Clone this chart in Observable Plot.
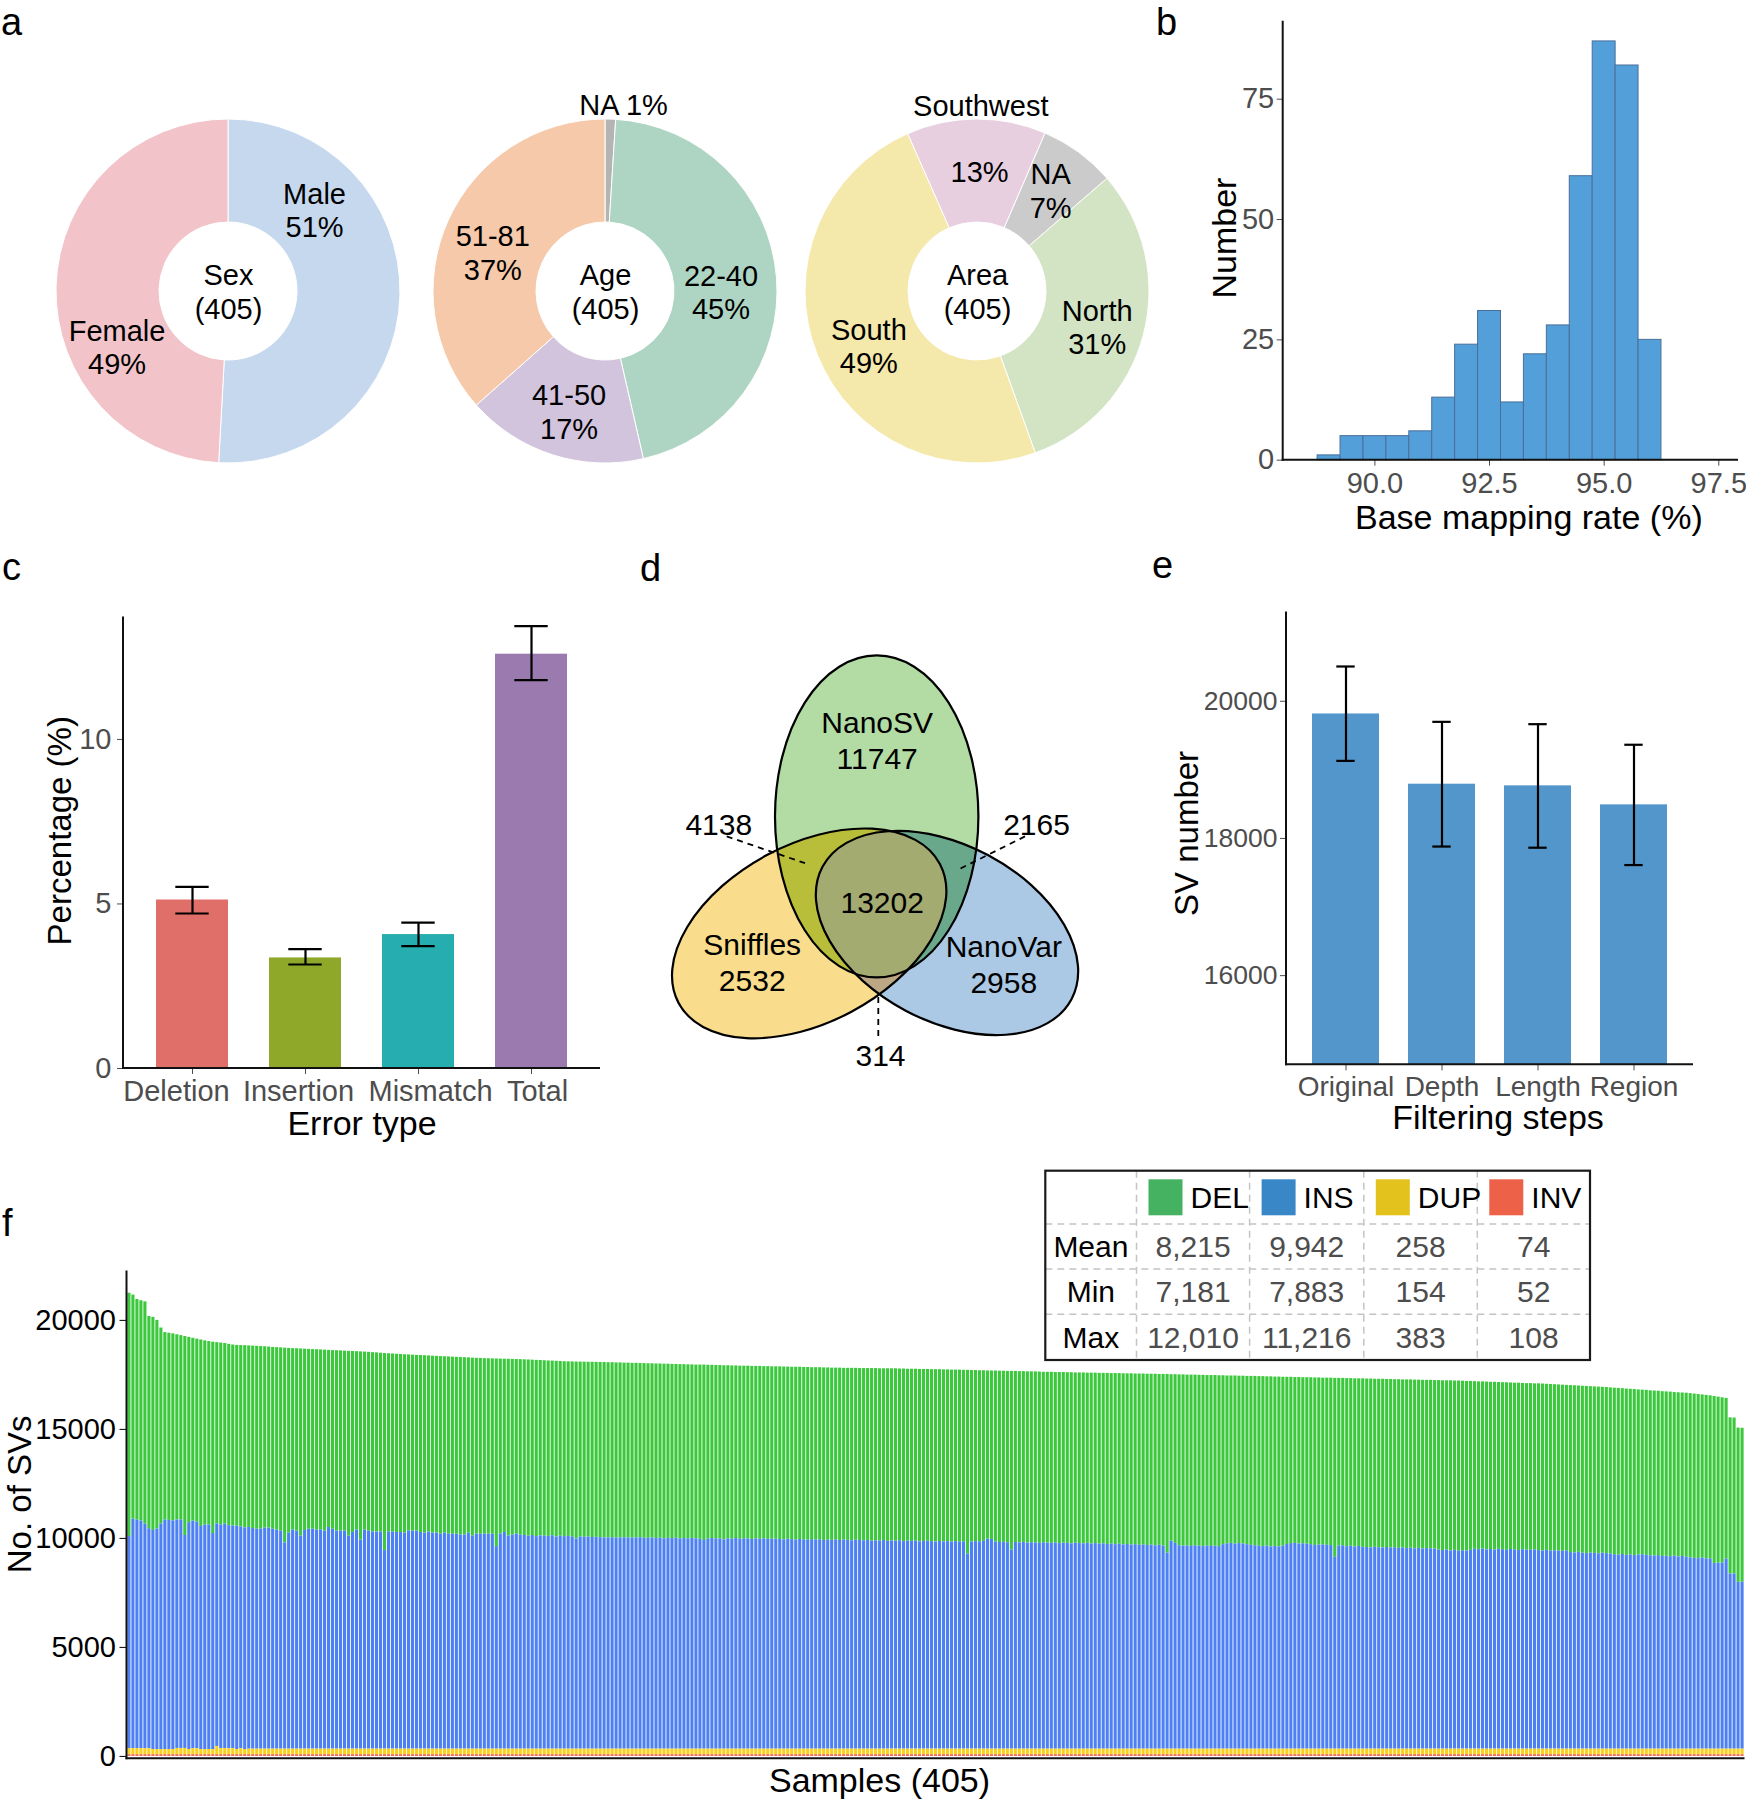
<!DOCTYPE html>
<html>
<head>
<meta charset="utf-8">
<title>Figure</title>
<script src="https://cdn.jsdelivr.net/npm/d3@7"></script>
<script src="https://cdn.jsdelivr.net/npm/@observablehq/plot@0.6"></script>
<style>
html,body{margin:0;padding:0;background:#fff;}
#fig{position:relative;width:1746px;height:1806px;overflow:hidden;background:#fff;font-family:"Liberation Sans",Arial,Helvetica,sans-serif;}
.panel{position:absolute;}
.panel svg{display:block;}
</style>
</head>
<body>
<div id="fig"></div>
<script>
// ================= DATA =================
// (a) cohort composition
const sexCats = ["Male", "Female"];
const sexCounts = [206, 199];
const sexColors = ["#c5d8ee", "#f2c4c9"];
const ageCats = ["NA", "22-40", "41-50", "51-81"];
const ageCounts = [4, 184, 69, 148];
const ageColors = ["#b4b4b4", "#aed5c3", "#d3c4de", "#f6c9aa"];
const areaCats = ["Southwest", "NA", "North", "South"];
const areaCounts = [53, 29, 125, 198];
const areaColors = ["#e8cfe0", "#cbcbcb", "#d2e4c4", "#f4e8ab"];

// (b) base mapping rate histogram
const mapBinStart = [88.75, 89.25, 89.75, 90.25, 90.75, 91.25, 91.75, 92.25, 92.75, 93.25, 93.75, 94.25, 94.75, 95.25, 95.75];
const mapBinWidth = 0.5;
const mapBinCount = [1, 5, 5, 5, 6, 13, 24, 31, 12, 22, 28, 59, 87, 82, 25];
const mapXTicks = [90, 92.5, 95, 97.5];
const mapYTicks = [0, 25, 50, 75];

// (c) error rates
const errTypes = ["Deletion", "Insertion", "Mismatch", "Total"];
const errMean = [5.12, 3.36, 4.07, 12.59];
const errLow = [4.71, 3.16, 3.72, 11.80];
const errHigh = [5.52, 3.63, 4.43, 13.44];
const errColors = ["#e06f69", "#8fa82a", "#26adaf", "#9b7baf"];
const errYTicks = [0, 5, 10];

// (d) Venn of callers
const vennSets = ["NanoSV", "Sniffles", "NanoVar"];
const vennUnique = [11747, 2532, 2958];
const vennPairs = [[0, 1], [0, 2], [1, 2]];
const vennPairCounts = [4138, 2165, 314];
const vennAllCount = 13202;
const vennFill = ["#b2dca4", "#f9dc8c", "#abc8e4"];
const vennPairFill = ["#b8bd3a", "#6aa88c", "#bba784"];
const vennAllFill = "#a4ab70";

// (e) filtering steps
const filterSteps = ["Original", "Depth", "Length", "Region"];
const svMean = [19815, 18791, 18767, 18490];
const svLow = [19131, 17882, 17865, 17612];
const svHigh = [20507, 19700, 19666, 19366];
const svYTicks = [16000, 18000, 20000];

// (f) per-sample SV counts (405 samples, sorted by total)
const svTypes = ["DEL", "INS", "DUP", "INV"];
const svStackOrder = ["INV", "DUP", "INS", "DEL"];
const svBarColors = ["#3cc83c", "#4d80f2", "#f7d11e", "#ef5b45"];
const svLegendColors = ["#45b262", "#3a87c8", "#e3c21d", "#ec6148"];
const sampleTotal = [
21245,21160,20960,20900,20850,20180,20140,20000,19650,19440,
19410,19380,19340,19300,19260,19220,19180,19140,19100,19060,
19030,19000,18980,18960,18940,18900,18870,18850,18845,18840,
18830,18820,18810,18800,18790,18775,18760,18750,18740,18725,
18715,18705,18700,18690,18680,18670,18660,18655,18645,18636,
18625,18615,18610,18600,18590,18580,18575,18565,18555,18547,
18535,18520,18510,18495,18480,18470,18460,18445,18435,18423,
18415,18405,18395,18390,18380,18370,18360,18350,18340,18334,
18325,18315,18305,18300,18290,18280,18270,18260,18255,18245,
18240,18235,18230,18225,18220,18215,18210,18205,18200,18192,
18185,18175,18165,18160,18150,18140,18135,18125,18115,18103,
18100,18095,18090,18088,18085,18080,18078,18075,18070,18068,
18060,18060,18050,18050,18040,18040,18030,18030,18020,18020,
18010,18010,18000,18000,17990,17990,17980,17980,17970,17970,
17960,17960,17950,17950,17950,17940,17940,17930,17930,17920,
17920,17910,17910,17900,17900,17900,17890,17890,17890,17880,
17880,17870,17870,17870,17860,17860,17850,17850,17850,17840,
17840,17830,17830,17830,17820,17820,17810,17810,17810,17800,
17800,17800,17800,17790,17790,17790,17790,17790,17780,17780,
17780,17780,17780,17770,17770,17760,17760,17760,17750,17750,
17750,17740,17740,17740,17730,17730,17720,17720,17720,17710,
17710,17700,17700,17690,17690,17680,17680,17680,17670,17670,
17660,17660,17660,17650,17650,17640,17640,17640,17630,17620,
17620,17620,17610,17610,17610,17600,17600,17590,17590,17590,
17580,17580,17580,17570,17570,17570,17560,17560,17560,17550,
17550,17550,17540,17540,17540,17530,17530,17530,17520,17520,
17520,17510,17510,17500,17500,17490,17490,17490,17480,17480,
17470,17470,17470,17460,17460,17450,17450,17450,17440,17440,
17430,17430,17430,17420,17420,17410,17410,17400,17400,17390,
17390,17390,17380,17380,17370,17370,17370,17360,17360,17350,
17350,17350,17340,17340,17340,17330,17330,17320,17320,17320,
17310,17310,17300,17300,17300,17290,17290,17280,17280,17270,
17270,17270,17260,17260,17250,17250,17250,17240,17240,17230,
17230,17230,17220,17220,17210,17200,17200,17190,17180,17180,
17170,17160,17160,17150,17140,17140,17130,17120,17120,17110,
17100,17100,17090,17090,17080,17070,17060,17050,17040,17030,
17020,17010,17000,16990,16980,16970,16960,16950,16940,16930,
16920,16905,16890,16880,16870,16850,16840,16830,16810,16800,
16790,16770,16760,16750,16730,16720,16710,16690,16680,16670,
16660,16640,16620,16600,16580,16560,16540,16510,16480,16450,
16420,15530,15520,15060,15050
];
const sampleINS = [
9730,10530,10480,10440,10300,10090,10050,10120,10350,10530,
10510,10490,10480,10480,9770,10410,10440,10390,10230,10300,
10300,9910,10210,10260,10300,10230,10210,10250,10170,10170,
10170,10120,10090,10090,10140,10140,10090,10050,10000,9460,
9910,10050,10000,9770,10030,10090,10090,10050,10050,10000,
10170,10090,10000,10000,10000,9770,9940,10050,9590,10050,
10000,9960,9960,9960,9110,9960,9960,9940,9940,9910,
10000,10000,10000,9940,9910,9960,9910,9910,9860,9910,
9860,9860,9860,9820,9820,9910,9770,9870,9860,9860,
9860,9860,9290,9870,9940,9770,9820,9870,9820,9800,
9770,9800,9750,9780,9770,9760,9790,9730,9770,9750,
9760,9740,9640,9730,9720,9730,9710,9720,9700,9690,
9690,9700,9680,9690,9700,9690,9680,9690,9700,9680,
9670,9690,9660,9680,9650,9670,9660,9680,9640,9660,
9650,9670,9650,9630,9570,9640,9660,9650,9640,9600,
9650,9640,9660,9630,9650,9640,9620,9640,9630,9650,
9620,9640,9630,9620,9600,9630,9610,9590,9620,9600,
9580,9610,9590,9600,9570,9590,9580,9600,9570,9590,
9580,9560,9590,9570,9560,9570,9540,9560,9550,9570,
9530,9550,9540,9560,9520,9540,9530,9550,9510,9530,
9540,9520,9500,9530,9510,9520,9500,9520,9490,9510,
8950,9500,9520,9510,9530,9640,9620,9500,9480,9490,
9470,9140,9480,9460,9490,9450,9470,9460,9440,9470,
9450,9440,9460,9430,9450,9440,9420,9450,9430,9420,
9440,9410,9430,9400,9420,9390,9410,9380,9400,9370,
9390,9360,9380,9350,9370,9340,9360,9330,9350,9320,
8990,9540,9440,9330,9310,9320,9300,9330,9310,9290,
9320,9300,9310,9290,9380,9420,9440,9400,9430,9410,
9380,9350,9330,9310,9290,9320,9270,9300,9280,9310,
9390,9430,9440,9410,9420,9400,9380,9340,9360,9370,
9350,9340,8800,9320,9330,9290,9310,9270,9300,9260,
9250,9230,9260,9240,9230,9250,9220,9240,9210,9230,
9200,9220,9190,9210,9180,9200,9190,9180,9130,9110,
9140,9090,9120,9080,9100,9090,9120,9170,9150,9180,
9140,9160,9130,9170,9150,9120,9160,9140,9110,9150,
9130,9120,9140,9110,9090,9120,9080,9100,9090,9070,
9100,9020,9000,9030,8990,8970,9000,8980,8960,8990,
8970,8950,8920,8900,8930,8890,8910,8880,8900,8920,
8890,8870,8860,8880,8840,8850,8830,8860,8820,8840,
8810,8770,8750,8740,8770,8730,8720,8520,8530,8540,
8720,8040,8030,7650,7660
];
const sampleDUP = [
280,280,280,280,280,280,240,240,240,240,240,240,290,290,290,
240,280,280,240,240,240,240,383,280,280,280,280,240,280,240,
258,258,258,258,258,258,258,258,258,258,258,258,258,258,258,
258,258,258,258,258,258,258,258,258,258,258,258,258,258,258,
258,258,258,258,258,258,258,258,258,258,258,258,258,258,258,
258,258,258,258,258,258,258,258,258,258,258,258,258,258,258,
258,258,258,258,258,258,258,258,258,258,258,258,258,258,258,
258,258,258,258,258,258,258,258,258,258,258,258,258,258,258,
258,258,258,258,258,258,258,258,258,258,258,258,258,258,258,
258,258,258,258,258,258,258,258,258,258,258,258,258,258,258,
258,258,258,258,258,258,258,258,258,258,258,258,258,258,258,
258,258,258,258,258,258,258,258,258,258,258,258,258,258,258,
258,258,258,258,258,258,258,258,258,258,258,258,258,258,258,
258,258,258,258,258,258,258,258,258,258,258,258,258,258,258,
258,258,258,258,258,258,258,258,258,258,258,258,258,258,258,
258,258,258,258,258,258,258,258,258,258,258,258,258,258,258,
258,258,258,258,258,258,258,258,258,258,258,258,258,258,258,
258,258,258,258,258,258,258,258,258,258,258,258,258,258,258,
258,258,258,258,258,258,258,258,258,258,258,258,258,258,258,
258,258,258,258,258,258,258,258,258,258,258,258,258,258,258,
258,258,258,258,258,258,258,258,258,258,258,258,258,258,258,
258,258,258,258,258,258,258,258,258,258,258,258,258,258,258,
258,258,258,258,258,258,258,258,258,258,258,258,258,258,258,
258,258,258,258,258,258,258,258,258,258,258,258,258,258,258,
258,258,258,258,258,258,258,258,258,258,258,258,258,258,258,
258,258,258,258,258,258,258,258,258,258,258,258,258,258,258,
258,258,258,258,258,258,258,258,258,258,258,258,258,258,258
];
const sampleINV = [
74,74,74,74,74,74,74,74,74,74,74,74,74,74,74,
74,74,74,74,74,74,74,74,74,74,74,74,74,74,74,
74,74,74,74,74,74,74,74,74,74,74,74,74,74,74,
74,74,74,74,74,74,74,74,74,74,74,74,74,74,74,
74,74,74,74,74,74,74,74,74,74,74,74,74,74,74,
74,74,74,74,74,74,74,74,74,74,74,74,74,74,74,
74,74,74,74,74,74,74,74,74,74,74,74,74,74,74,
74,74,74,74,74,74,74,74,74,74,74,74,74,74,74,
74,74,74,74,74,74,74,74,74,74,74,74,74,74,74,
74,74,74,74,74,74,74,74,74,74,74,74,74,74,74,
74,74,74,74,74,74,74,74,74,74,74,74,74,74,74,
74,74,74,74,74,74,74,74,74,74,74,74,74,74,74,
74,74,74,74,74,74,74,74,74,74,74,74,74,74,74,
74,74,74,74,74,74,74,74,74,74,74,74,74,74,74,
74,74,74,74,74,74,74,74,74,74,74,74,74,74,74,
74,74,74,74,74,74,74,74,74,74,74,74,74,74,74,
74,74,74,74,74,74,74,74,74,74,74,74,74,74,74,
74,74,74,74,74,74,74,74,74,74,74,74,74,74,74,
74,74,74,74,74,74,74,74,74,74,74,74,74,74,74,
74,74,74,74,74,74,74,74,74,74,74,74,74,74,74,
74,74,74,74,74,74,74,74,74,74,74,74,74,74,74,
74,74,74,74,74,74,74,74,74,74,74,74,74,74,74,
74,74,74,74,74,74,74,74,74,74,74,74,74,74,74,
74,74,74,74,74,74,74,74,74,74,74,74,74,74,74,
74,74,74,74,74,74,74,74,74,74,74,74,74,74,74,
74,74,74,74,74,74,74,74,74,74,74,74,74,74,74,
74,74,74,74,74,74,74,74,74,74,74,74,74,74,74
];
const svYTicksF = [0, 5000, 10000, 15000, 20000];
// summary table of panel f
const statRows = ["Mean", "Min", "Max"];
const statDEL = [8215, 7181, 12010];
const statINS = [9942, 7883, 11216];
const statDUP = [258, 154, 383];
const statINV = [74, 52, 108];

// ================= LAYOUT (positions / styles) =================
const FONT = '"Liberation Sans", Arial, Helvetica, sans-serif';
const GRAY = "#4d4d4d";
const donutLayout = {width: 376, height: 480, cx: 188, cy: 291, outer: 172, inner: 69, fontSize: 29, lineHeight: 1.16};
const sexLabels = [
  {slice: "Male", angle: 46.5, r: 118.6, fmt: "stack"},
  {slice: "Female", angle: 243.7, r: 124.3, fmt: "stack"}
];
const ageLabels = [
  {slice: "NA", angle: 5.5, r: 188, fmt: "inline"},
  {slice: "22-40", angle: 90.2, r: 115.5, fmt: "stack"},
  {slice: "41-50", angle: 196.9, r: 125.4, fmt: "stack"},
  {slice: "51-81", angle: 289.1, r: 119.3, fmt: "stack"}
];
const areaLabels = [
  {slice: "Southwest", angle: 1, r: 186, fmt: "name"},
  {slice: "Southwest", angle: 1, r: 120, fmt: "pct"},
  {slice: "NA", angle: 35.8, r: 125, fmt: "stack"},
  {slice: "North", angle: 106.4, r: 124.8, fmt: "stack"},
  {slice: "South", angle: 243.4, r: 121.5, fmt: "stack"}
];
const errLabelDx = [-16, -7, 12, 6];
const vennEllipses = [
  {cx: 246.7, cy: 276.4, rx: 101.7, ry: 161, angle: 0},
  {cx: 179.2, cy: 393.4, rx: 148, ry: 89, angle: -28},
  {cx: 317, cy: 393, rx: 141, ry: 88, angle: 28}
];
const vennSetLabelPos = [[246.7, 199.1], [121.7, 421.4], [373.3, 422.7]];
const vennPairLabelPos = [[88.3, 283.2], [406, 283.2], [250, 514.3]];
const vennAllLabelPos = [251.7, 360.7];
const vennLeaders = [[96.7, 296.4, 175, 323.2], [395, 296.4, 326.7, 330.4], [248.3, 457.1, 248.3, 498.2]];
const tableLayout = {cols: [1045.3, 1136.5, 1249.6, 1363.8, 1477.3, 1590], rows: [20.7, 74, 119, 164.3, 210],
  swatchDx: 12, swatchY: 29.3, swatchW: 34, swatchH: 36, textDx: 54};
const panelLetters = [["a", 1, 35], ["b", 1156, 35], ["c", 2, 580], ["d", 640, 581], ["e", 1152, 578], ["f", 2, 1236]];

// ================= HELPERS =================
const fig = document.getElementById("fig");
function place(node, left, top, width) {
  const d = document.createElement("div");
  d.className = "panel";
  d.style.left = left + "px";
  d.style.top = top + "px";
  d.style.width = width + "px";
  d.appendChild(node);
  fig.appendChild(d);
}
function styleFor(fs) {
  return {fontFamily: FONT, fontSize: fs + "px", background: "transparent", overflow: "visible", color: "#000"};
}
function axisLines(w = 2, color = "#111") {
  return (index, scales, values, dims) => {
    const {width, height, marginTop, marginRight, marginBottom, marginLeft} = dims;
    const g = d3.create("svg:g").attr("stroke", color).attr("stroke-width", w).attr("fill", "none");
    const yb = height - marginBottom, xr = width - marginRight;
    g.append("line").attr("x1", marginLeft).attr("x2", marginLeft).attr("y1", marginTop).attr("y2", yb + w / 2);
    g.append("line").attr("x1", marginLeft - w / 2).attr("x2", xr).attr("y1", yb).attr("y2", yb);
    return g.node();
  };
}
function title(text, opts) {
  return Plot.text([text], {text: d => d, fontSize: 34, fill: "#000", textAnchor: "middle", lineAnchor: "middle", ...opts});
}

// ================= (a) DONUTS =================
function donutPanel(name, cats, counts, colors, startDeg, labels, left) {
  const L = donutLayout;
  const total = d3.sum(counts);
  const rows = cats.map((c, i) => ({cat: c, n: counts[i], pct: Math.round(counts[i] / total * 100) + "%"}));
  const a0 = startDeg * Math.PI / 180;
  const arcs = d3.pie().value(d => d.n).sort(null).startAngle(a0).endAngle(a0 + 2 * Math.PI)(rows);
  const arcGen = d3.arc().innerRadius(L.inner).outerRadius(L.outer);
  const byCat = new Map(rows.map(r => [r.cat, r]));
  const labelRows = labels.map(l => {
    const r = byCat.get(l.slice);
    const t = l.fmt === "stack" ? r.cat + "\n" + r.pct : l.fmt === "inline" ? r.cat + " " + r.pct : l.fmt === "name" ? r.cat : r.pct;
    const a = l.angle * Math.PI / 180;
    return {x: L.cx + l.r * Math.sin(a), y: L.cy - l.r * Math.cos(a), label: t};
  });
  const svg = Plot.plot({
    width: L.width, height: L.height, margin: 0, style: styleFor(L.fontSize),
    x: {type: "identity", axis: null}, y: {type: "identity", axis: null},
    marks: [
      () => {
        const g = d3.create("svg:g").attr("transform", `translate(${L.cx},${L.cy})`);
        g.selectAll("path").data(arcs).join("path")
          .attr("d", arcGen)
          .attr("fill", d => colors[cats.indexOf(d.data.cat)])
          .attr("stroke", "#fff").attr("stroke-width", 1);
        return g.node();
      },
      Plot.text(labelRows, {x: "x", y: "y", text: "label", fontSize: L.fontSize, lineHeight: L.lineHeight, fill: "#000"}),
      Plot.text([name + "\n(" + total + ")"], {x: () => L.cx, y: () => L.cy, text: d => d, fontSize: L.fontSize, lineHeight: L.lineHeight, fill: "#000"})
    ]
  });
  place(svg, left, 0, L.width);
}
donutPanel("Sex", sexCats, sexCounts, sexColors, 0, sexLabels, 228 - donutLayout.cx);
donutPanel("Age", ageCats, ageCounts, ageColors, 0, ageLabels, 605 - donutLayout.cx);
donutPanel("Area", areaCats, areaCounts, areaColors, -23.8, areaLabels, 977 - donutLayout.cx);

// ================= (b) HISTOGRAM =================
{
  const bins = mapBinStart.map((s, i) => ({lo: s, hi: s + mapBinWidth, n: mapBinCount[i]}));
  const svg = Plot.plot({
    width: 586, height: 540, marginLeft: 122.7, marginRight: 8, marginTop: 20.7, marginBottom: 80.3,
    style: styleFor(29),
    x: {domain: [88.0, 97.93]}, y: {domain: [0, 91.2]},
    marks: [
      Plot.rectY(bins, {x1: "lo", x2: "hi", y: "n", fill: "#539fd9", stroke: "#4a6f9a", strokeWidth: 1}),
      Plot.axisX({ticks: mapXTicks, tickFormat: d3.format(".1f"), tickSize: 6, tickPadding: 6, color: GRAY, label: null}),
      Plot.axisY({ticks: mapYTicks, tickFormat: d3.format("d"), tickSize: 6, tickPadding: 3, color: GRAY, label: null}),
      axisLines(2),
      title("Base mapping rate (%)", {frameAnchor: "bottom", dx: 18, dy: 58}),
      title("Number", {frameAnchor: "left", rotate: -90, dx: -57.7, dy: -2.6})
    ]
  });
  place(svg, 1160, 0, 586);
}

// ================= (c) ERROR RATE BARS =================
{
  const data = errTypes.map((t, i) => ({type: t, mean: errMean[i], lo: errLow[i], hi: errHigh[i]}));
  const svg = Plot.plot({
    width: 620, height: 550, marginLeft: 123, marginRight: 20, marginTop: 26.5, marginBottom: 72,
    style: styleFor(29),
    x: {domain: errTypes, paddingInner: 0.36, paddingOuter: 0.28},
    y: {domain: [0, 13.72]},
    color: {domain: errTypes, range: errColors},
    marks: [
      Plot.barY(data, {x: "type", y: "mean", fill: "type"}),
      Plot.ruleX(data, {x: "type", y1: "lo", y2: "hi", stroke: "#000", strokeWidth: 2.2}),
      Plot.tickY(data, {x: "type", y: "lo", insetLeft: 19.3, insetRight: 19.3, stroke: "#000", strokeWidth: 2.2}),
      Plot.tickY(data, {x: "type", y: "hi", insetLeft: 19.3, insetRight: 19.3, stroke: "#000", strokeWidth: 2.2}),
      Plot.axisX({tickSize: 6, tickFormat: () => "", color: GRAY, label: null}),
      ...errTypes.map((t, i) => Plot.text([t], {x: d => d, text: d => d, frameAnchor: "bottom", textAnchor: "middle", lineAnchor: "middle",
        dx: errLabelDx[i], dy: 23, fill: GRAY, fontSize: 29})),
      Plot.axisY({ticks: errYTicks, tickFormat: d3.format("d"), tickSize: 6, tickPadding: 6, color: GRAY, label: null}),
      axisLines(2),
      title("Error type", {frameAnchor: "bottom", dx: 0, dy: 56}),
      title("Percentage (%)", {frameAnchor: "left", rotate: -90, dx: -63, dy: -12, fontSize: 33})
    ]
  });
  place(svg, 0, 590, 620);
}

// ================= (d) VENN =================
{
  const E = vennEllipses;
  const labels = [];
  vennSets.forEach((s, i) => labels.push({x: vennSetLabelPos[i][0], y: vennSetLabelPos[i][1], label: s + "\n" + vennUnique[i]}));
  vennPairCounts.forEach((n, i) => labels.push({x: vennPairLabelPos[i][0], y: vennPairLabelPos[i][1], label: String(n)}));
  labels.push({x: vennAllLabelPos[0], y: vennAllLabelPos[1], label: String(vennAllCount)});
  const svg = Plot.plot({
    width: 520, height: 560, margin: 0, style: styleFor(30),
    x: {type: "identity", axis: null}, y: {type: "identity", axis: null},
    marks: [
      () => {
        const g = d3.create("svg:g");
        const defs = g.append("defs");
        const addEll = (sel, e) => sel.append("ellipse")
          .attr("cx", e.cx).attr("cy", e.cy).attr("rx", e.rx).attr("ry", e.ry)
          .attr("transform", `rotate(${e.angle} ${e.cx} ${e.cy})`);
        E.forEach((e, i) => addEll(defs.append("clipPath").attr("id", "vennclip" + i), e));
        [1, 2, 0].forEach(i => addEll(g, E[i]).attr("fill", vennFill[i]));
        vennPairs.forEach(([a, b], k) => addEll(g.append("g").attr("clip-path", `url(#vennclip${a})`), E[b]).attr("fill", vennPairFill[k]));
        addEll(g.append("g").attr("clip-path", "url(#vennclip1)").append("g").attr("clip-path", "url(#vennclip0)"), E[2]).attr("fill", vennAllFill);
        E.forEach(e => addEll(g, e).attr("fill", "none").attr("stroke", "#000").attr("stroke-width", 2.2));
        vennLeaders.forEach(l => g.append("line")
          .attr("x1", l[0]).attr("y1", l[1]).attr("x2", l[2]).attr("y2", l[3])
          .attr("stroke", "#000").attr("stroke-width", 1.8).attr("stroke-dasharray", "6,5"));
        return g.node();
      },
      Plot.text(labels, {x: "x", y: "y", text: "label", fontSize: 30, lineHeight: 1.2, fill: "#000"})
    ]
  });
  place(svg, 630, 540, 520);
}

// ================= (e) FILTERING STEPS =================
{
  const data = filterSteps.map((t, i) => ({step: t, mean: svMean[i], lo: svLow[i], hi: svHigh[i]}));
  const svg = Plot.plot({
    width: 606, height: 550, marginLeft: 146, marginRight: 53, marginTop: 21.6, marginBottom: 75.7,
    style: styleFor(28),
    x: {domain: filterSteps, paddingInner: 0.3, paddingOuter: 0.25},
    y: {domain: [14700, 21300]},
    marks: [
      Plot.barY(data, {x: "step", y: "mean", fill: "#5296cb", clip: true}),
      Plot.ruleX(data, {x: "step", y1: "lo", y2: "hi", stroke: "#000", strokeWidth: 2.2}),
      Plot.tickY(data, {x: "step", y: "lo", insetLeft: 24.3, insetRight: 24.3, stroke: "#000", strokeWidth: 2.2}),
      Plot.tickY(data, {x: "step", y: "hi", insetLeft: 24.3, insetRight: 24.3, stroke: "#000", strokeWidth: 2.2}),
      Plot.axisX({tickSize: 6, tickPadding: 5, color: GRAY, label: null}),
      Plot.axisY({ticks: svYTicks, tickFormat: d3.format("d"), tickSize: 6, tickPadding: 3, color: GRAY, label: null, fontSize: 26.5}),
      axisLines(2),
      title("Filtering steps", {frameAnchor: "bottom", dx: 8, dy: 53.7}),
      title("SV number", {frameAnchor: "left", rotate: -90, dx: -99.5, dy: -5, fontSize: 33})
    ]
  });
  place(svg, 1140, 590, 606);
}

// ================= (f) PER-SAMPLE STACKED BARS + TABLE =================
{
  const N = Math.min(sampleTotal.length, sampleINS.length, sampleDUP.length, sampleINV.length);
  const sampleIds = d3.range(1, N + 1);
  const rows = [];
  for (let i = 0; i < N; i++) {
    const del = sampleTotal[i] - sampleINS[i] - sampleDUP[i] - sampleINV[i];
    rows.push({sample: sampleIds[i], type: "DEL", value: del});
    rows.push({sample: sampleIds[i], type: "INS", value: sampleINS[i]});
    rows.push({sample: sampleIds[i], type: "DUP", value: sampleDUP[i]});
    rows.push({sample: sampleIds[i], type: "INV", value: sampleINV[i]});
  }
  const fmt = d3.format(",");
  const statCols = [statDEL, statINS, statDUP, statINV];
  const statTable = () => {
    const T = tableLayout;
    const g = d3.create("svg:g").attr("font-family", FONT);
    const x0 = T.cols[0], x1 = T.cols[T.cols.length - 1], y0 = T.rows[0], y1 = T.rows[T.rows.length - 1];
    g.append("rect").attr("x", x0).attr("y", y0).attr("width", x1 - x0).attr("height", y1 - y0).attr("fill", "#fff");
    const dash = g.append("g").attr("stroke", "#c4c4c4").attr("stroke-width", 1.5).attr("stroke-dasharray", "7,5");
    T.cols.slice(1, -1).forEach(x => dash.append("line").attr("x1", x).attr("x2", x).attr("y1", y0).attr("y2", y1));
    T.rows.slice(1, -1).forEach(y => dash.append("line").attr("x1", x0).attr("x2", x1).attr("y1", y).attr("y2", y));
    g.append("rect").attr("x", x0).attr("y", y0).attr("width", x1 - x0).attr("height", y1 - y0)
      .attr("fill", "none").attr("stroke", "#1a1a1a").attr("stroke-width", 2.2);
    const hy = (T.rows[0] + T.rows[1]) / 2;
    svTypes.forEach((t, j) => {
      const cx = T.cols[j + 1];
      g.append("rect").attr("x", cx + T.swatchDx).attr("y", T.swatchY).attr("width", T.swatchW).attr("height", T.swatchH).attr("fill", svLegendColors[j]);
      g.append("text").attr("x", cx + T.textDx).attr("y", hy).attr("dy", "0.35em").attr("text-anchor", "start")
        .attr("font-size", 30).attr("fill", "#000").text(t);
    });
    statRows.forEach((r, i) => {
      const cy = (T.rows[i + 1] + T.rows[i + 2]) / 2;
      g.append("text").attr("x", (T.cols[0] + T.cols[1]) / 2).attr("y", cy).attr("dy", "0.35em").attr("text-anchor", "middle")
        .attr("font-size", 30).attr("fill", "#000").text(r);
      statCols.forEach((col, j) => {
        g.append("text").attr("x", (T.cols[j + 1] + T.cols[j + 2]) / 2).attr("y", cy).attr("dy", "0.35em").attr("text-anchor", "middle")
          .attr("font-size", 30).attr("fill", GRAY).text(fmt(col[i]));
      });
    });
    return g.node();
  };
  const svg = Plot.plot({
    width: 1746, height: 656, marginLeft: 126.5, marginRight: 1.5, marginTop: 120.4, marginBottom: 47.7,
    style: styleFor(29),
    x: {domain: sampleIds, padding: 0.22, axis: null},
    y: {domain: [-110, 22270]},
    color: {domain: svTypes, range: svBarColors},
    marks: [
      Plot.barY(rows, {x: "sample", y: "value", fill: "type", order: svStackOrder}),
      Plot.axisY({ticks: svYTicksF, tickFormat: d3.format("d"), tickSize: 7, tickPadding: 4, color: "#000", label: null}),
      axisLines(2),
      title("No. of SVs", {frameAnchor: "left", rotate: -90, dx: -107, dy: -20.5, fontSize: 33}),
      title(`Samples (${N})`, {frameAnchor: "bottom", dx: -56.5, dy: 22.7}),
      statTable
    ]
  });
  place(svg, 0, 1150, 1746);
}

// ================= PANEL LETTERS =================
{
  const ov = d3.create("svg").attr("width", 1746).attr("height", 1806)
    .style("position", "absolute").style("left", "0px").style("top", "0px")
    .style("font-family", FONT).style("pointer-events", "none");
  panelLetters.forEach(([t, x, y]) => ov.append("text").attr("x", x).attr("y", y).attr("font-size", 38).attr("fill", "#000").text(t));
  fig.appendChild(ov.node());
}
</script>
</body>
</html>
